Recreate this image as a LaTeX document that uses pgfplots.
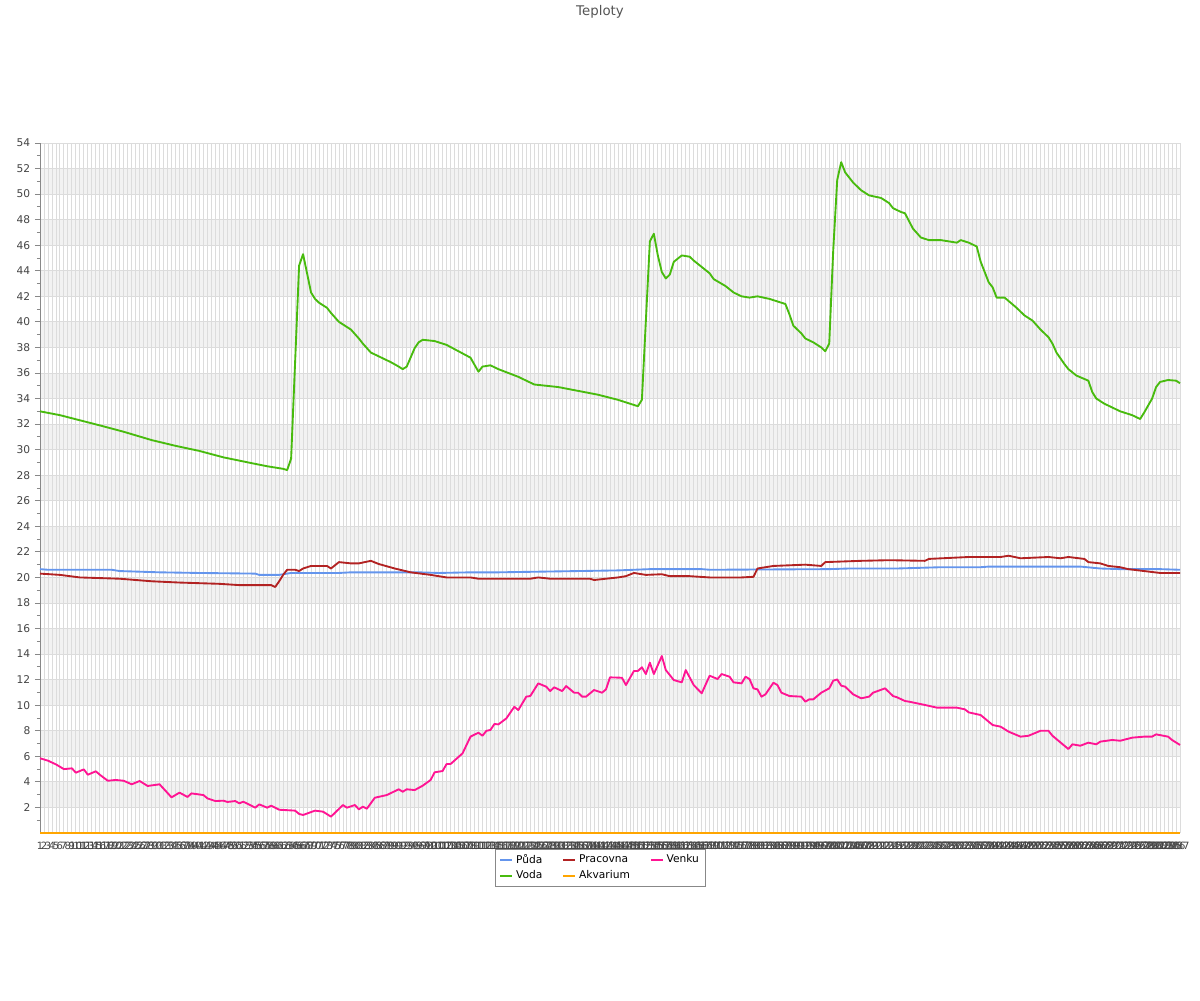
\documentclass[border=0pt]{standalone}
\usepackage{fontspec}
\setmainfont{DejaVu Sans}
\usepackage{pgfplots}
\pgfplotsset{compat=1.18}
\definecolor{puda}{RGB}{100,149,237}
\definecolor{pracovna}{RGB}{178,34,34}
\definecolor{venku}{RGB}{255,20,147}
\definecolor{voda}{RGB}{72,187,14}
\definecolor{akvarium}{RGB}{255,165,0}
\definecolor{bandgray}{RGB}{242,242,242}
\definecolor{gridgray}{RGB}{220,220,220}
\definecolor{labelgray}{RGB}{68,68,68}
\definecolor{titlegray}{RGB}{85,85,85}
\definecolor{axisgray}{RGB}{136,136,136}
\begin{document}
\begin{tikzpicture}
\begin{axis}[
  at={(30pt,125.25pt)}, anchor=south west,
  scale only axis, width=855pt, height=517.5pt,
  set layers=standard,
  clip=false,
  xmin=1, xmax=287, ymin=0, ymax=54,
  axis x line=bottom, axis y line=left,
  axis line style={draw=axisgray, line width=0.6pt, -},
  xtick={1,...,287},
  ytick={2,4,...,54},
  minor ytick={1,3,...,53},
  xmajorgrids, ymajorgrids,
  major grid style={draw=gridgray, line width=0.65pt},
  tick align=outside,
  major tick length=3.75pt,
  minor tick length=2.25pt,
  y tick style={draw=axisgray, line width=0.6pt},
  x tick style={draw=none},
  /pgf/number format/assume math mode=true,
  /pgf/number format/1000 sep={},
  ticklabel style={text=labelgray},
  yticklabel style={font=\fontsize{8}{9}\selectfont},
  xticklabel style={font=\fontsize{7.5}{8}\selectfont, inner sep=1pt, yshift=-2pt},
  legend columns=3,
  legend cell align=left,
  legend image code/.code={\draw[#1, line width=1.5pt] (0pt,0pt) -- (9pt,0pt);},
  legend style={at={(0.4917,-0.0225)}, anchor=north, draw=axisgray, line width=0.6pt,
    font=\fontsize{8}{10}\selectfont, inner xsep=3pt, inner ysep=2pt,
    /tikz/every even column/.append style={column sep=13pt}},
  every axis plot/.append style={line width=1.4pt, line join=round},
]
\begin{pgfonlayer}{axis background}
\fill[bandgray] (axis cs:1,2) rectangle (axis cs:287,4);
\fill[bandgray] (axis cs:1,6) rectangle (axis cs:287,8);
\fill[bandgray] (axis cs:1,10) rectangle (axis cs:287,12);
\fill[bandgray] (axis cs:1,14) rectangle (axis cs:287,16);
\fill[bandgray] (axis cs:1,18) rectangle (axis cs:287,20);
\fill[bandgray] (axis cs:1,22) rectangle (axis cs:287,24);
\fill[bandgray] (axis cs:1,26) rectangle (axis cs:287,28);
\fill[bandgray] (axis cs:1,30) rectangle (axis cs:287,32);
\fill[bandgray] (axis cs:1,34) rectangle (axis cs:287,36);
\fill[bandgray] (axis cs:1,38) rectangle (axis cs:287,40);
\fill[bandgray] (axis cs:1,42) rectangle (axis cs:287,44);
\fill[bandgray] (axis cs:1,46) rectangle (axis cs:287,48);
\fill[bandgray] (axis cs:1,50) rectangle (axis cs:287,52);
\end{pgfonlayer}

% Puda
\addplot[puda] coordinates {
(1,20.65)(3,20.6)(19,20.6)(21,20.5)(31,20.4)(41,20.35)(55,20.3)(56,20.2)(61,20.2)
(64,20.35)(76,20.35)(79,20.4)(96,20.4)(101,20.35)(109,20.4)(116,20.4)(136,20.5)
(146,20.55)(154,20.65)(167,20.65)(169,20.6)(199,20.65)(204,20.7)(216,20.7)(227,20.8)
(237,20.8)(239,20.85)(262,20.85)(267,20.7)(272,20.65)(282,20.65)(287,20.6)};
\addlegendentry{Půda}

% Pracovna
\addplot[pracovna] coordinates {
(1,20.3)(6,20.2)(11,20.0)(21,19.9)(29,19.7)(36,19.6)(41,19.55)(46,19.5)(51,19.4)
(59,19.4)(60,19.25)(61,19.7)(62,20.2)(63,20.6)(65,20.6)(66,20.5)(67,20.7)(69,20.9)
(73,20.9)(74,20.7)(76,21.2)(79,21.1)(81,21.1)(84,21.3)(86,21.05)(90,20.7)(94,20.4)
(99,20.2)(103,20.0)(109,20.0)(111,19.9)(124,19.9)(126,20.0)(129,19.9)(139,19.9)
(140,19.8)(143,19.9)(146,20.0)(148,20.1)(150,20.35)(153,20.2)(157,20.25)(159,20.1)
(164,20.1)(169,20.0)(177,20.0)(180,20.05)(181,20.7)(183,20.8)(185,20.9)(193,21.0)
(197,20.9)(198,21.2)(207,21.3)(214,21.35)(223,21.3)(224,21.45)(234,21.6)(242,21.6)
(244,21.7)(247,21.5)(254,21.6)(257,21.5)(259,21.6)(263,21.45)(264,21.2)(267,21.1)
(269,20.9)(272,20.8)(274,20.65)(278,20.5)(282,20.35)(287,20.35)};
\addlegendentry{Pracovna}

% Venku
\addplot[venku] coordinates {
(1,5.85)(3,5.66)(5,5.37)(7,5.0)(9,5.06)(10,4.72)(12,4.98)(13,4.56)(15,4.83)(16,4.56)
(18,4.09)(20,4.15)(22,4.09)(24,3.81)(26,4.07)(28,3.68)(31,3.81)(34,2.79)(36,3.16)
(38,2.82)(39,3.1)(42,2.97)(43,2.71)(45,2.50)(47,2.53)(48,2.43)(50,2.50)(51,2.32)
(52,2.45)(54,2.14)(55,1.98)(56,2.24)(58,1.98)(59,2.14)(61,1.82)(65,1.75)(66,1.49)
(67,1.41)(70,1.75)(72,1.67)(74,1.28)(77,2.19)(78,1.98)(80,2.19)(81,1.85)(82,2.06)
(83,1.9)(85,2.76)(88,2.97)(91,3.42)(92,3.23)(93,3.42)(95,3.36)(97,3.70)(99,4.15)
(100,4.75)(102,4.85)(103,5.4)(104,5.4)(107,6.23)(109,7.54)(111,7.85)(112,7.61)
(113,8.0)(114,8.06)(115,8.53)(116,8.5)(118,8.97)(120,9.88)(121,9.62)(123,10.67)
(124,10.72)(126,11.71)(128,11.45)(129,11.11)(130,11.4)(132,11.11)(133,11.5)(135,10.98)
(136,10.98)(137,10.67)(138,10.67)(140,11.19)(142,10.98)(143,11.24)(144,12.18)
(147,12.15)(148,11.58)(150,12.68)(151,12.68)(152,12.97)(153,12.44)(154,13.33)
(155,12.44)(157,13.85)(158,12.75)(160,11.97)(162,11.79)(163,12.75)(165,11.58)
(167,10.93)(169,12.31)(171,12.05)(172,12.44)(174,12.23)(175,11.79)(177,11.71)
(178,12.23)(179,12.05)(180,11.32)(181,11.24)(182,10.67)(183,10.85)(185,11.76)
(186,11.58)(187,10.98)(189,10.72)(192,10.67)(193,10.28)(194,10.46)(195,10.46)
(197,10.98)(199,11.32)(200,11.92)(201,12.02)(202,11.53)(203,11.45)(205,10.85)
(207,10.54)(209,10.67)(210,10.98)(213,11.32)(215,10.72)(216,10.62)(218,10.33)
(219,10.28)(223,10.02)(226,9.81)(231,9.81)(233,9.68)(234,9.44)(237,9.23)(239,8.71)
(240,8.45)(242,8.32)(244,7.93)(247,7.54)(249,7.61)(252,8.0)(254,8.0)(255,7.61)
(257,7.09)(259,6.57)(260,6.94)(262,6.83)(264,7.07)(266,6.94)(267,7.15)(270,7.28)
(272,7.22)(275,7.46)(278,7.54)(280,7.54)(281,7.72)(284,7.54)(285,7.28)(287,6.89)};
\addlegendentry{Venku}

% Voda
\addplot[voda] coordinates {
(1,33.0)(6,32.7)(11,32.3)(16,31.9)(22,31.4)(29,30.75)(35,30.3)(41,29.9)(47,29.4)
(54,28.95)(58,28.7)(62,28.5)(63,28.4)(64,29.3)(66,44.4)(67,45.3)(69,42.3)(70,41.8)
(71,41.5)(73,41.1)(74,40.7)(76,40.0)(79,39.4)(81,38.7)(82,38.3)(84,37.6)(86,37.3)
(89,36.85)(91,36.5)(92,36.3)(93,36.5)(95,37.95)(96,38.4)(97,38.6)(100,38.5)(103,38.2)
(106,37.7)(109,37.2)(111,36.1)(112,36.5)(114,36.6)(116,36.3)(121,35.7)(125,35.1)
(128,35.0)(131,34.9)(136,34.6)(141,34.3)(146,33.9)(149,33.6)(151,33.4)(152,33.9)
(153,40.1)(154,46.3)(155,46.9)(156,45.2)(157,43.9)(158,43.4)(159,43.7)(160,44.7)
(162,45.2)(164,45.1)(165,44.8)(167,44.3)(169,43.8)(170,43.35)(173,42.8)(175,42.3)
(177,42.0)(179,41.9)(181,42.0)(184,41.8)(188,41.4)(189,40.6)(190,39.7)(192,39.1)
(193,38.7)(195,38.4)(197,38.0)(198,37.7)(199,38.3)(200,45.6)(201,51.1)(202,52.5)
(203,51.7)(205,50.9)(207,50.3)(209,49.9)(212,49.7)(214,49.3)(215,48.9)(217,48.6)
(218,48.5)(220,47.3)(222,46.6)(224,46.4)(227,46.4)(229,46.3)(231,46.2)(232,46.4)
(234,46.2)(236,45.9)(237,44.7)(239,43.1)(240,42.7)(241,41.9)(243,41.9)(246,41.1)
(248,40.5)(250,40.1)(252,39.4)(254,38.8)(255,38.3)(256,37.6)(258,36.7)(259,36.3)
(261,35.8)(264,35.4)(265,34.5)(266,34.0)(268,33.6)(270,33.3)(272,33.0)(274,32.8)
(275,32.7)(277,32.4)(278,32.9)(280,34.0)(281,34.9)(282,35.3)(284,35.45)(286,35.4)
(287,35.2)};
\addlegendentry{Voda}

% Akvarium
\addplot[akvarium] coordinates {(1,0)(287,0)};
\addlegendentry{Akvarium}
\end{axis}
\node[text=titlegray, font=\fontsize{10}{12}\selectfont] at (450pt,741.5pt) {Teploty};
\pgfresetboundingbox
\path[use as bounding box] (0pt,0pt) rectangle (900pt,750pt);
\end{tikzpicture}
\end{document}
